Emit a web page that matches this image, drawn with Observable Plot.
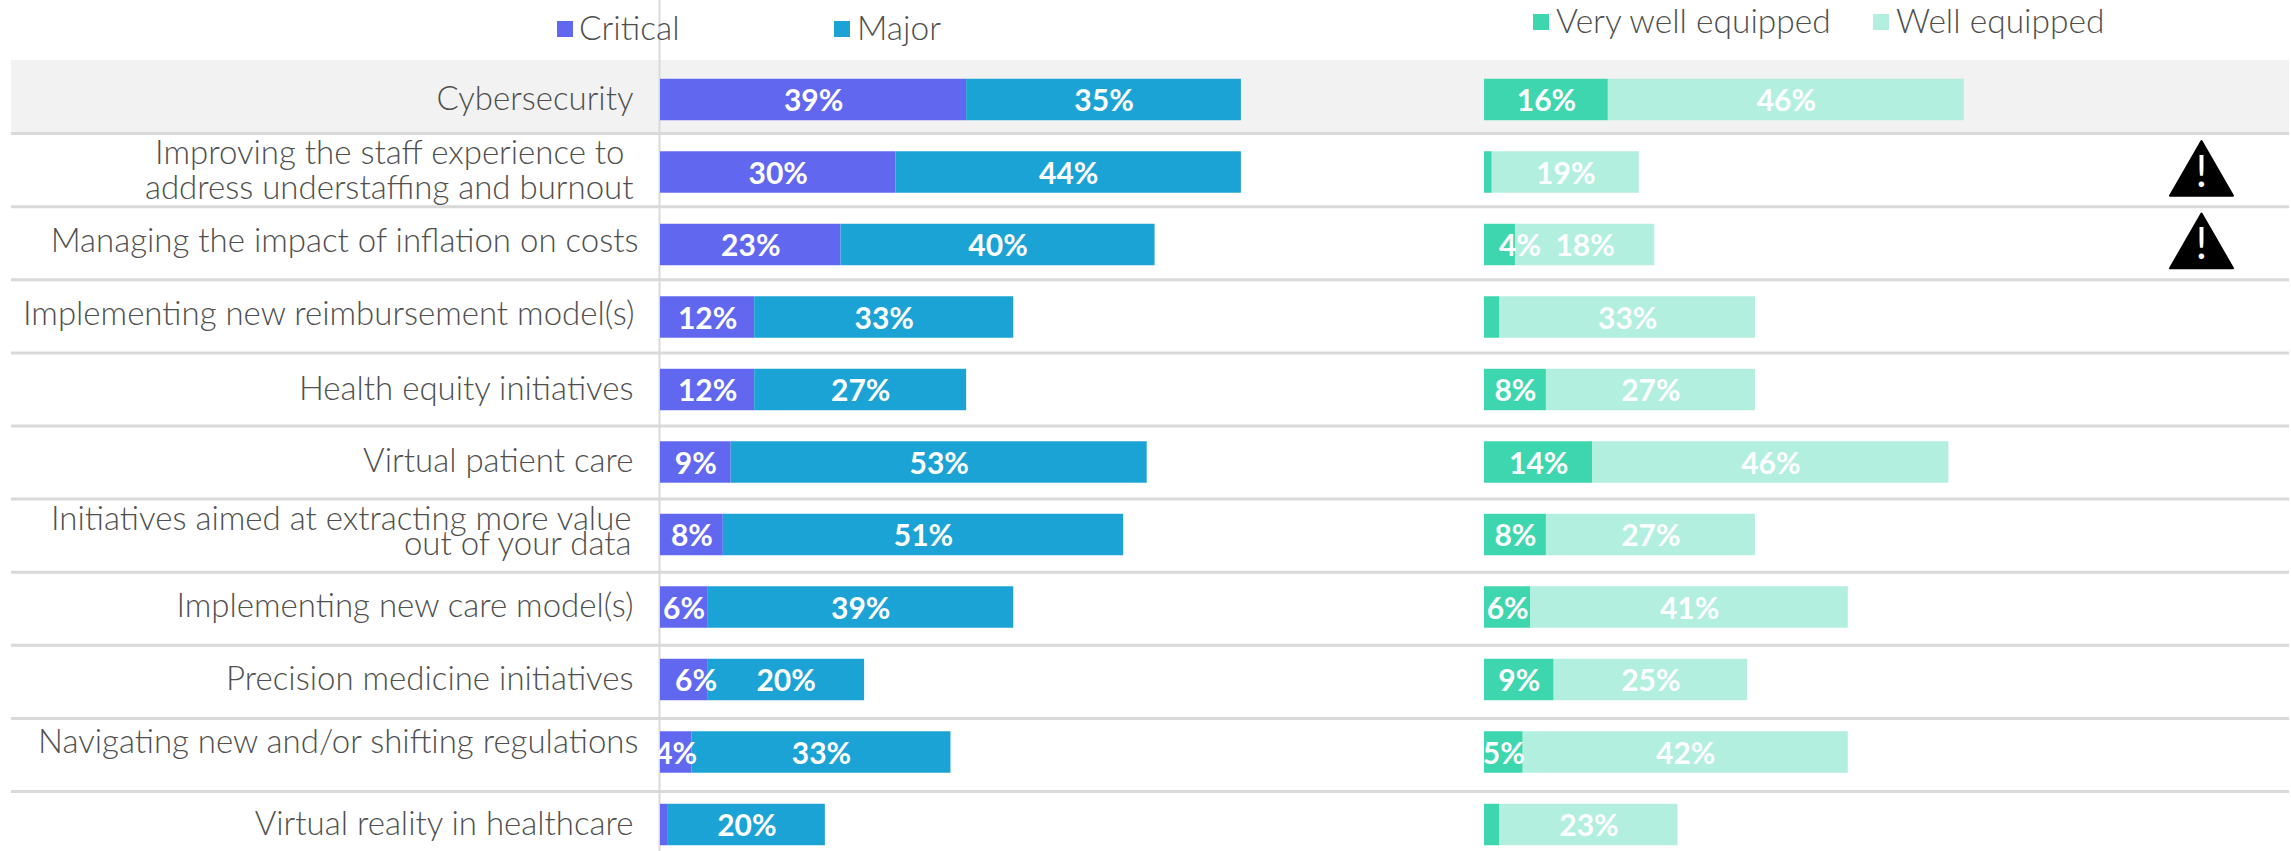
<!DOCTYPE html>
<html>
<head>
<meta charset="utf-8">
<script src="https://cdn.jsdelivr.net/npm/d3@7"></script>
<script src="https://cdn.jsdelivr.net/npm/@observablehq/plot@0.6"></script>
<style>
html,body{margin:0;padding:0;background:#fff;overflow:hidden}
#chart{position:relative;width:2291px;height:851px;font-family:Lato,sans-serif}
#chart svg{position:absolute;left:0;top:0}
.lg{position:absolute;font:300 33.5px Lato,sans-serif;color:#4f4f4f;line-height:36px;white-space:nowrap}
.sw{position:absolute;width:16px;height:16px}
</style>
</head>
<body>
<div id="chart"></div>
<script>
const rows = [
  "Cybersecurity",
  "Improving the staff experience to\u00a0\naddress understaffing and burnout",
  "Managing the impact of inflation on costs",
  "Implementing new reimbursement model(s)",
  "Health equity initiatives",
  "Virtual patient care",
  "Initiatives aimed at extracting more value\nout of your data",
  "Implementing new care model(s)",
  "Precision medicine initiatives",
  "Navigating new and/or shifting regulations",
  "Virtual reality in healthcare"
];
const critical = [39, 30, 23, 12, 12, 9, 8, 6, 6, 4, 1];
const major = [35, 44, 40, 33, 27, 53, 51, 39, 20, 33, 20];
const veryWell = [16, 1, 4, 2, 8, 14, 8, 6, 9, 5, 2];
const well = [46, 19, 18, 33, 27, 46, 27, 41, 25, 42, 23];
const warned = [rows[1], rows[2]];
const leftSeries = ["Critical", "Major"];
const rightSeries = ["Very well equipped", "Well equipped"];
const leftColors = ["#6267F0", "#1CA3D6"];
const rightColors = ["#3DD6AF", "#B2EFDF"];
const lightGrey = "#D9D9D9";
const textGrey = "#4f4f4f";
const W = 2291, H = 851;

const toLong = (names, a, b) => rows.flatMap((row, i) => [
  {row, series: names[0], v: a[i]},
  {row, series: names[1], v: b[i]}
]);
const pct = d => d.v < 3 ? null : d.v + "%";
const labelFont = {fontFamily: "Lato, sans-serif", fontWeight: 300, fontSize: 33, fill: textGrey, textAnchor: "end"};
const valueFont = {fontFamily: "Lato, sans-serif", fontWeight: 700, fontSize: 30, fill: "#fff", textAnchor: "middle"};
const barY = {domain: rows, range: [63.25, 860.75], paddingInner: 0.428, paddingOuter: 0.214, round: false, axis: null};
const base = {width: W, height: H, marginTop: 0, marginBottom: 0, marginLeft: 0, marginRight: 0, style: {background: "transparent"}};

// row bands: shaded first row, separators
const backdrop = Plot.plot({
  ...base, marginLeft: 11, marginRight: 2,
  x: {domain: [0, 1], axis: null},
  y: {domain: rows, range: [60, 60 + 73.1 * 11], paddingInner: 0, paddingOuter: 0, round: false, axis: null},
  marks: [
    Plot.barX(rows.slice(0, 1), {x1: 0, x2: 1, y: d => d, fill: "#F2F2F2"}),
    Plot.ruleY(rows.slice(0, -1), {y: d => d, dy: 36.55, stroke: lightGrey, strokeWidth: 3})
  ]
});

// stacked bars, one plot per panel
function panel(names, colors, a, b, xRange, nudged, nudge, extra) {
  const long = toLong(names, a, b);
  const isNudged = d => d.row === nudged && d.series === names[0];
  const stack = o => Plot.stackX({x: "v", y: "row", z: "series", order: null, ...o});
  return Plot.plot({
    ...base,
    x: {domain: [0, 100], range: xRange, axis: null},
    y: barY,
    color: {domain: names, range: colors},
    marks: [
      ...extra,
      Plot.barX(long, stack({fill: "series"})),
      Plot.text(long, stack({text: d => isNudged(d) ? null : pct(d), dy: 1.5, ...valueFont})),
      Plot.text(long, stack({text: d => isNudged(d) ? pct(d) : null, dy: 1.5, dx: nudge, ...valueFont}))
    ]
  });
}

const labelGroups = [
  {rows: [rows[0], rows[4], rows[5], rows[7], rows[8], rows[10]], dx: 0, dy: -1, lineHeight: 1},
  {rows: [rows[3]], dx: 1, dy: -3, lineHeight: 1},
  {rows: [rows[1]], dx: 0, dy: -2, lineHeight: 1.04},
  {rows: [rows[6]], dx: -2, dy: -1, lineHeight: 0.76},
  {rows: [rows[2]], dx: 5, dy: -4, lineHeight: 1},
  {rows: [rows[9]], dx: 5, dy: -10, lineHeight: 1}
];

const left = panel(leftSeries, leftColors, critical, major, [660, 660 + 785], rows[8], 12, [
  Plot.ruleX([0], {stroke: lightGrey, strokeWidth: 2, dx: -1}),
  ...labelGroups.map(g => Plot.text(g.rows, {
    y: d => d, frameAnchor: "left", text: d => d, dx: 633 + g.dx, dy: g.dy, lineHeight: g.lineHeight, ...labelFont
  }))
]);

const right = panel(rightSeries, rightColors, veryWell, well, [1484, 1484 + 774], rows[2], 20, [
  Plot.dot(warned, {y: d => d, frameAnchor: "right", dx: -90, dy: 5, symbol: "triangle", r: 23.4, fill: "#000", stroke: "#000", strokeWidth: 2, strokeLinejoin: "round"}),
  Plot.text(warned, {y: d => d, frameAnchor: "right", dx: -90, dy: 0, text: () => "!", fill: "#fff", fontFamily: "Lato, sans-serif", fontWeight: 400, fontSize: 44, textAnchor: "middle"})
]);

const chart = document.getElementById("chart");
chart.append(backdrop, left, right);

// legend
const legend = [
  {label: leftSeries[0], color: leftColors[0], sw: 557, tx: 579, y: 21},
  {label: leftSeries[1], color: leftColors[1], sw: 834, tx: 857, y: 21},
  {label: rightSeries[0], color: rightColors[0], sw: 1533, tx: 1556, y: 14},
  {label: rightSeries[1], color: rightColors[1], sw: 1873, tx: 1896, y: 14}
];
for (const l of legend) {
  const s = document.createElement("div");
  s.className = "sw";
  s.style.cssText = `left:${l.sw}px;top:${l.y}px;background:${l.color}`;
  const t = document.createElement("div");
  t.className = "lg";
  t.textContent = l.label;
  t.style.cssText = `left:${l.tx}px;top:${l.y - 12}px`;
  chart.append(s, t);
}
</script>
</body>
</html>
